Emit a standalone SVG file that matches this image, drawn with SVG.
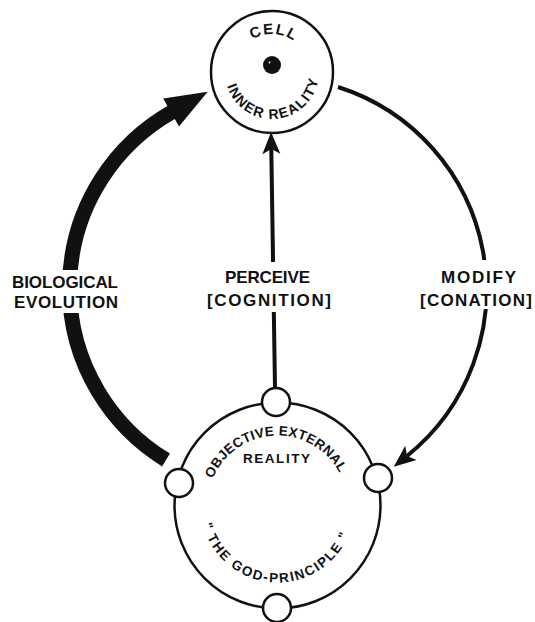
<svg xmlns="http://www.w3.org/2000/svg" width="535" height="622" viewBox="0 0 535 622">
<style>
.ring{fill:#fff;stroke:#111;stroke-width:2.5}
.port{fill:#fff;stroke:#111;stroke-width:2.5}
.lbl{font-family:"Liberation Sans",Arial,sans-serif;font-size:17px;font-weight:bold;fill:#111}
.arc{font-family:"Liberation Sans",Arial,sans-serif;font-size:13.5px;font-weight:bold;fill:#111}
.thin{fill:none;stroke:#111;stroke-width:4}
.thick{fill:none;stroke:#111;stroke-width:15}
</style>
<defs>
<marker id="headThin" markerUnits="userSpaceOnUse" viewBox="0 -10 22 20" refX="5" refY="0" markerWidth="22" markerHeight="20" orient="auto" overflow="visible">
<path d="M0,-9 L22,0 L0,9 L5,0 Z" fill="#111"/>
</marker>
<marker id="headThick" markerUnits="userSpaceOnUse" viewBox="0 -16 42 32" refX="1" refY="0" markerWidth="42" markerHeight="32" orient="auto" overflow="visible">
<path d="M0,-16 L42,0 L0,16 Z" fill="#111"/>
</marker>
<mask id="gaps" maskUnits="userSpaceOnUse" x="0" y="0" width="535" height="622">
<rect x="0" y="0" width="535" height="622" fill="#fff"/>
<rect x="0" y="270" width="150" height="43" fill="#000"/>
<rect x="240" y="262" width="70" height="50" fill="#000"/>
<rect x="420" y="260" width="115" height="49" fill="#000"/>
</mask>
<path id="cellTop" d="M234,72 A38,38 0 0 1 310,72"/>
<path id="cellBottom" d="M225,72 A47,47 0 0 0 319,72"/>
<path id="objTop" d="M207.5,505.5 A70,70 0 0 1 347.5,505.5"/>
<path id="objBottom" d="M200.5,505.5 A77,77 0 0 0 354.5,505.5"/>
</defs>
<rect width="535" height="622" fill="#fff"/>
<g id="connectors" mask="url(#gaps)">
<path id="biological-evolution" class="thick" d="M166,460 A202,202 0 0 1 172,112" marker-end="url(#headThick)"/>
<path id="perceive" class="thin" d="M275,388 L271.3,149" marker-end="url(#headThin)"/>
<path id="modify" class="thin" d="M338,87 A213,213 0 0 1 407,456" marker-end="url(#headThin)"/>
</g>
<g id="cell">
<circle class="ring" cx="272" cy="72" r="61"/>
<circle cx="272" cy="65" r="9" fill="#111"/>
<circle cx="269.5" cy="62.5" r="0.9" fill="#fff"/>
<text class="arc" style="font-size:15px" letter-spacing="1.5"><textPath href="#cellTop" startOffset="51.5%" text-anchor="middle">CELL</textPath></text>
<text class="arc" style="font-size:14px" letter-spacing="1.5"><textPath href="#cellBottom" startOffset="52.5%" text-anchor="middle">INNER REALITY</textPath></text>
</g>
<g id="objective-reality">
<circle class="ring" cx="277.5" cy="505.5" r="103"/>
<text class="arc" letter-spacing="0.3"><textPath href="#objTop" startOffset="48.6%" text-anchor="middle">OBJECTIVE EXTERNAL</textPath></text>
<text class="arc" x="243" y="463" textLength="67">REALITY</text>
<text class="arc" letter-spacing="1.7"><textPath href="#objBottom" startOffset="48%" text-anchor="middle">" THE GOD-PRINCIPLE "</textPath></text>
<circle class="port" cx="276" cy="402" r="14"/>
<circle class="port" cx="179" cy="483" r="14"/>
<circle class="port" cx="378" cy="478" r="14"/>
<circle class="port" cx="277" cy="608" r="14"/>
</g>
<g id="label-biological-evolution">
<text class="lbl" x="12" y="288" textLength="106">BIOLOGICAL</text>
<text class="lbl" x="14" y="308" textLength="104">EVOLUTION</text>
</g>
<g id="label-perceive">
<text class="lbl" x="225" y="283" textLength="85">PERCEIVE</text>
<text class="lbl" x="207" y="306" textLength="124">[COGNITION]</text>
</g>
<g id="label-modify">
<text class="lbl" x="441" y="283" textLength="75">MODIFY</text>
<text class="lbl" x="420" y="306" textLength="112">[CONATION]</text>
</g>
</svg>
